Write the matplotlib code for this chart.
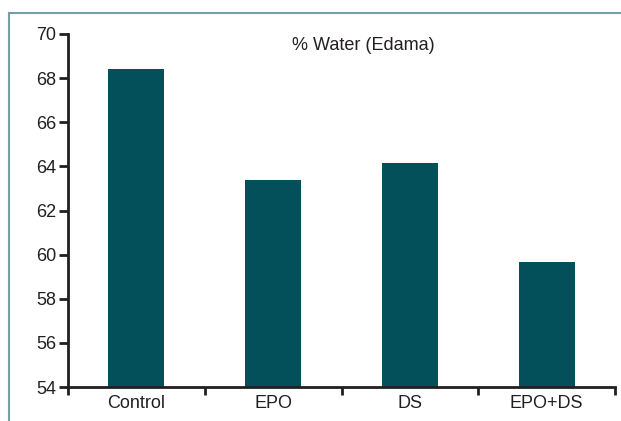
import matplotlib
matplotlib.use("Agg")
import matplotlib.pyplot as plt
from matplotlib.lines import Line2D

plt.rcParams["font.family"] = ["Liberation Sans", "DejaVu Sans"]

categories = ["Control", "EPO", "DS", "EPO+DS"]
water_pct = [68.4, 63.4, 64.15, 59.65]
y_ticks = [54, 56, 58, 60, 62, 64, 66, 68, 70]

bar_color = "#034f5a"
frame_color = "#73a0a5"
axis_color = "#231f20"

fig = plt.figure(figsize=(6.21, 4.21), dpi=100)
ax = fig.add_axes([68 / 621, 1 - 387 / 421, 547 / 621, 353 / 421])

x = list(range(len(categories)))
ax.bar(x, water_pct, width=0.41, color=bar_color, zorder=2)

ax.set_xlim(-0.5, len(categories) - 0.5)
ax.set_ylim(54, 70)
ax.set_yticks(y_ticks)
ax.set_yticklabels([str(t) for t in y_ticks], fontsize=13, color=axis_color)

# category labels centred, ticks at the boundaries
ax.set_xticks(x)
ax.set_xticklabels(categories, fontsize=13, color=axis_color)
ax.tick_params(axis="x", which="major", length=0, pad=6)
ax.set_xticks([i - 0.5 for i in range(len(categories) + 1)], minor=True)
ax.tick_params(axis="x", which="minor", length=6, width=2, color=axis_color, direction="out")
ax.tick_params(axis="y", length=6.5, width=2, color=axis_color, direction="out", pad=2)

for side in ["top", "right"]:
    ax.spines[side].set_visible(False)
for side in ["left", "bottom"]:
    ax.spines[side].set_linewidth(2)
    ax.spines[side].set_color(axis_color)

ax.text(0.54, 0.968, "% Water (Edama)", transform=ax.transAxes,
        ha="center", va="center", fontsize=13, color=axis_color)

# teal frame on top and left of the figure
fig.add_artist(Line2D([9 / 621, 1], [1 - 13 / 421, 1 - 13 / 421],
                      transform=fig.transFigure, color=frame_color, lw=1.5))
fig.add_artist(Line2D([9 / 621, 9 / 621], [0, 1 - 13 / 421],
                      transform=fig.transFigure, color=frame_color, lw=1.5))

fig.savefig("out.png", dpi=100)
